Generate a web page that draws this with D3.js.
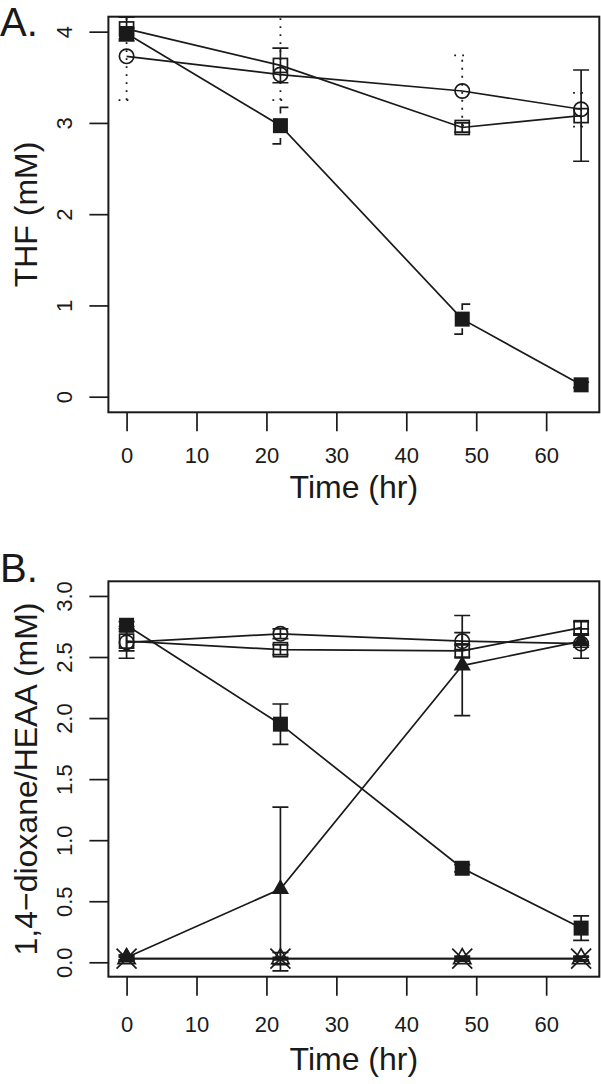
<!DOCTYPE html>
<html><head><meta charset="utf-8">
<script src="https://cdn.jsdelivr.net/npm/d3@7"></script>
<style>
body{margin:0;background:#fff}
svg{display:block}
text{font-family:"Liberation Sans",Arial,Helvetica,sans-serif;fill:#1a1a1a}
</style>
</head><body><svg id="c" width="601" height="1084"></svg>
<script>
// ---------- data ----------
const timeHr = [0, 22, 48, 65];
const xTicks = [0, 10, 20, 30, 40, 50, 60];

// Panel A: THF (mM)
const thfTicks = [0, 1, 2, 3, 4];
const thfFilledSq = [3.98, 2.97, 0.85, 0.13];
const thfFilledSqErr = [0.06, 0.20, 0.165, 0.03];
const thfOpenSq = [4.03, 3.63, 2.95, 3.08];
const thfOpenSqErr = [0.13, 0.19, 0.05, 0.50];
const thfCircle = [3.73, 3.53, 3.35, 3.15];
const thfCircleLo = [3.25, 3.25, 2.97, 2.96];
const thfCircleHi = [4.25, 4.30, 3.74, 3.33];

// Panel B: 1,4-dioxane / HEAA (mM)
const dioxTicks = [0, 0.5, 1, 1.5, 2, 2.5, 3];
const dioxFilledSq = [2.76, 1.95, 0.77, 0.28];
const dioxFilledSqErr = [0.03, 0.165, 0.03, 0.10];
const dioxOpenSq = [2.63, 2.56, 2.55, 2.74];
const dioxOpenSqErr = [0.08, 0.04, 0.05, 0.05];
const dioxCircle = [2.62, 2.69, 2.63, 2.61];
const dioxCircleErr = [0.13, 0.04, 0.07, 0.12];
const heaaFilledTri = [0.04, 0.60, 2.43, 2.63];
const heaaFilledTriErr = [0.02, 0.67, 0.41, 0.05];
const ctrlOpenTri = [0.03, 0.03, 0.03, 0.03];
const ctrlOpenTriErr = [0.02, 0.05, 0.02, 0.02];
const ctrlCross = [0.03, 0.03, 0.03, 0.03];
const ctrlCrossErr = [0.01, 0.01, 0.01, 0.01];

// ---------- helpers ----------
const INK = "#1a1a1a";
const sym = (y, e) => ({lo: y.map((v, i) => v - e[i]), hi: y.map((v, i) => v + e[i])});

const panels = [
  {
    id: "A", letter: "A.", letterY: 36, top: 16.7, bottom: 412.3,
    yDom: [-0.171, 4.164], yTicks: thfTicks, fmt: d3.format("d"),
    title: "THF (mM)", xLabY: 463.5, xTitleY: 498,
    series: [
      {y: thfCircle, lo: thfCircleLo, hi: thfCircleHi, shape: "circle", err: "dotted"},
      {y: thfOpenSq, ...sym(thfOpenSq, thfOpenSqErr), shape: "sqOpen", err: "solid"},
      {y: thfFilledSq, ...sym(thfFilledSq, thfFilledSqErr), shape: "sqFilled", err: "bracket"}
    ]
  },
  {
    id: "B", letter: "B.", letterY: 582, top: 581.3, bottom: 976.7,
    yDom: [-0.118, 3.12], yTicks: dioxTicks, fmt: d3.format(".1f"),
    title: "1,4\u2212dioxane/HEAA (mM)", xLabY: 1032, xTitleY: 1070,
    series: [
      {y: ctrlCross, ...sym(ctrlCross, ctrlCrossErr), shape: "cross", err: "solid"},
      {y: ctrlOpenTri, ...sym(ctrlOpenTri, ctrlOpenTriErr), shape: "triOpen", err: "solid"},
      {y: dioxCircle, ...sym(dioxCircle, dioxCircleErr), shape: "circle", err: "solid"},
      {y: dioxOpenSq, ...sym(dioxOpenSq, dioxOpenSqErr), shape: "sqOpen", err: "solid"},
      {y: heaaFilledTri, ...sym(heaaFilledTri, heaaFilledTriErr), shape: "triFilled", err: "solid"},
      {y: dioxFilledSq, ...sym(dioxFilledSq, dioxFilledSqErr), shape: "sqFilled", err: "solid"}
    ]
  }
];

const LEFT = 108.4, RIGHT = 599.3;
const x = d3.scaleLinear().domain([-2.6, 67.6]).range([LEFT, RIGHT]);
const svg = d3.select("#c");
const defs = svg.append("defs");
const CAP = 8, LW = 1.7;

function drawMarker(g, shape, cx, cy) {
  if (shape === "sqFilled") {
    g.append("rect").attr("x", cx - 7.5).attr("y", cy - 7.5).attr("width", 15).attr("height", 15).attr("fill", INK);
  } else if (shape === "sqOpen") {
    g.append("rect").attr("x", cx - 7).attr("y", cy - 7).attr("width", 14).attr("height", 14)
      .attr("fill", "none").attr("stroke", INK).attr("stroke-width", LW);
  } else if (shape === "circle") {
    g.append("circle").attr("cx", cx).attr("cy", cy).attr("r", 7.2)
      .attr("fill", "none").attr("stroke", INK).attr("stroke-width", LW);
  } else if (shape === "triFilled" || shape === "triOpen") {
    const s = 6.4;
    const p = `M${cx},${cy - 1.555 * s}L${cx + 1.347 * s},${cy + 0.778 * s}L${cx - 1.347 * s},${cy + 0.778 * s}Z`;
    const el = g.append("path").attr("d", p);
    if (shape === "triFilled") el.attr("fill", INK);
    else el.attr("fill", "none").attr("stroke", INK).attr("stroke-width", LW).attr("stroke-linejoin", "miter");
  } else if (shape === "cross") {
    const s = 10;
    g.append("path").attr("d", `M${cx - s},${cy - s}L${cx + s},${cy + s}M${cx - s},${cy + s}L${cx + s},${cy - s}`)
      .attr("fill", "none").attr("stroke", INK).attr("stroke-width", LW);
  }
}

function drawErr(g, style, cx, yLo, yHi) {
  if (style === "bracket") {
    const L = 2 * CAP + Math.abs(yLo - yHi);
    const vis = CAP + 6;
    const gap = Math.max(0, L - 2 * vis);
    g.append("path").attr("d", `M${cx - CAP},${yLo}H${cx}V${yHi}H${cx + CAP}`)
      .attr("fill", "none").attr("stroke", INK).attr("stroke-width", LW)
      .attr("stroke-dasharray", gap > 0 ? `${vis} ${gap} ${vis}` : null);
    return;
  }
  const el = g.append("path")
    .attr("d", `M${cx - CAP},${yLo}H${cx + CAP}M${cx},${yLo}V${yHi}M${cx - CAP},${yHi}H${cx + CAP}`)
    .attr("fill", "none").attr("stroke", INK).attr("stroke-width", style === "dotted" ? 1.8 : LW);
  if (style === "dotted") el.attr("stroke-dasharray", "1.8 6.2");
}

panels.forEach(P => {
  const y = d3.scaleLinear().domain(P.yDom).range([P.bottom, P.top]);

  defs.append("clipPath").attr("id", "clip" + P.id)
    .append("rect").attr("x", LEFT).attr("y", P.top).attr("width", RIGHT - LEFT).attr("height", P.bottom - P.top);

  // axes
  const gx = svg.append("g").attr("transform", `translate(0,${P.bottom})`)
    .call(d3.axisBottom(x).tickValues(xTicks).tickSize(19).tickFormat(d3.format("d")));
  gx.select(".domain").remove();
  gx.selectAll(".tick line").attr("stroke", INK).attr("stroke-width", LW);
  gx.selectAll(".tick text").attr("y", P.xLabY - P.bottom).attr("dy", 0)
    .attr("font-size", 22).attr("fill", INK)
    .style("font-family", '"Liberation Sans",Arial,sans-serif');

  const gy = svg.append("g").attr("transform", `translate(${LEFT},0)`)
    .call(d3.axisLeft(y).tickValues(P.yTicks).tickSize(19).tickFormat(P.fmt));
  gy.select(".domain").remove();
  gy.selectAll(".tick line").attr("stroke", INK).attr("stroke-width", LW);
  gy.selectAll(".tick text").attr("x", 0).attr("dy", 0).attr("text-anchor", "middle")
    .attr("transform", `translate(${72 - LEFT},0) rotate(-90)`)
    .attr("font-size", 22).attr("fill", INK)
    .style("font-family", '"Liberation Sans",Arial,sans-serif');

  // titles
  svg.append("text").attr("x", (LEFT + RIGHT) / 2).attr("y", P.xTitleY).attr("text-anchor", "middle")
    .attr("font-size", 32).text("Time (hr)");
  svg.append("text").attr("transform", `translate(36.5,${(P.top + P.bottom) / 2}) rotate(-90)`)
    .attr("text-anchor", "middle").attr("font-size", 32).text(P.title);
  svg.append("text").attr("x", 0).attr("y", P.letterY).attr("font-size", 40).text(P.letter);

  // data
  const plot = svg.append("g").attr("clip-path", `url(#clip${P.id})`);
  const line = d3.line().x((d, i) => x(timeHr[i])).y(d => y(d));
  P.series.forEach(S => {
    plot.append("path").attr("d", line(S.y)).attr("fill", "none").attr("stroke", INK).attr("stroke-width", LW);
  });
  P.series.forEach(S => {
    S.y.forEach((v, i) => drawErr(plot, S.err, x(timeHr[i]), y(S.lo[i]), y(S.hi[i])));
  });
  P.series.forEach(S => {
    S.y.forEach((v, i) => drawMarker(plot, S.shape, x(timeHr[i]), y(v)));
  });

  // box
  svg.append("rect").attr("x", LEFT).attr("y", P.top).attr("width", RIGHT - LEFT).attr("height", P.bottom - P.top)
    .attr("fill", "none").attr("stroke", INK).attr("stroke-width", 2);
});
</script>
</body></html>
